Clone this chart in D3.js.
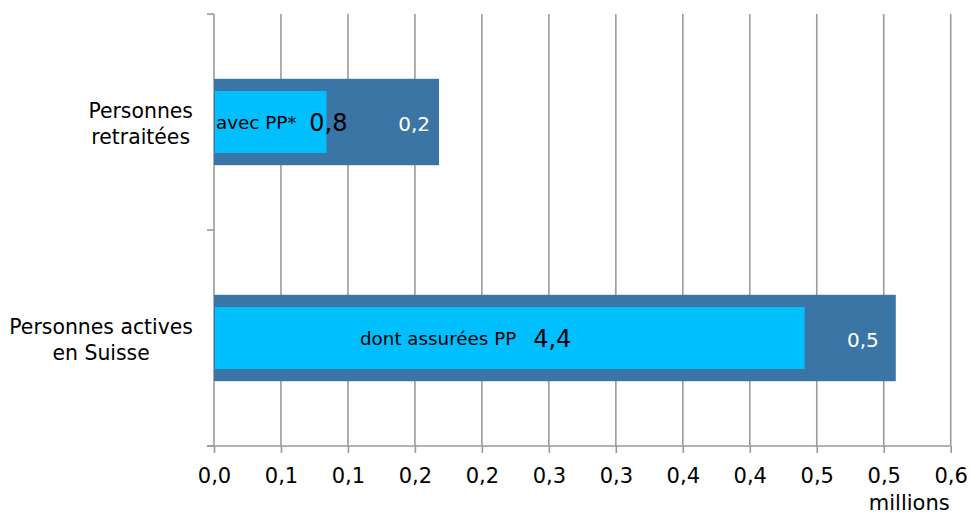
<!DOCTYPE html>
<html><head><meta charset="utf-8">
<script src="https://cdn.jsdelivr.net/npm/d3@7"></script>
<style>html,body{margin:0;padding:0;background:#fff;} svg{display:block;}</style>
</head><body>
<script>
// ---- data ----
const categories = ["Personnes retraitées", "Personnes actives en Suisse"];
const categoryLines = [["Personnes", "retraitées"], ["Personnes actives", "en Suisse"]];
const totals = [0.168, 0.509];          // dark bars (millions, axis units)
const subsets = [0.084, 0.441];         // light bars
const subsetNames = ["avec PP*", "dont assurées PP"];
const subsetValueLabels = ["0,8", "4,4"];
const remainderLabels = ["0,2", "0,5"];
const tickValues = [0, 0.05, 0.1, 0.15, 0.2, 0.25, 0.3, 0.35, 0.4, 0.45, 0.5, 0.55];
const tickLabels = ["0,0","0,1","0,1","0,2","0,2","0,3","0,3","0,4","0,4","0,5","0,5","0,6"];
const unitLabel = "millions";

// ---- layout ----
const W = 970, H = 514;
const mLeft = 214, mRight = 950.7, mTop = 14, mBottom = 446;
const FONT = "DejaVu Sans, sans-serif";
const GRID = "#9a9a9a";
const DARK = "#3A75A5", LIGHT = "#00BFFF";
const nameStart = [2, 146];     // px offset from bar start for subset name
const valueGap = [13, 17];      // px between subset name and its value
const remainderPad = [9, 17];   // px from end of dark bar

const svg = d3.select("body").append("svg").attr("width", W).attr("height", H);
const x = d3.scaleLinear().domain([0, 0.55]).range([mLeft, mRight]);
const y = d3.scaleBand().domain(categories).range([mTop, mBottom]);

// gridlines
svg.append("g").selectAll("line").data(tickValues.slice(1)).join("line")
  .attr("x1", d => x(d)).attr("x2", d => x(d))
  .attr("y1", mTop).attr("y2", mBottom)
  .attr("stroke", GRID).attr("stroke-width", 1.6);

// x axis
const xAxis = d3.axisBottom(x).tickValues(tickValues)
  .tickFormat((d, i) => tickLabels[i]).tickSize(7).tickSizeOuter(0).tickPadding(9);
const gx = svg.append("g").attr("transform", `translate(0,${mBottom})`).call(xAxis);
gx.select(".domain").remove();
gx.append("line").attr("x1", mLeft - 7).attr("x2", mRight).attr("y1", 0).attr("y2", 0)
  .attr("stroke", GRID).attr("stroke-width", 1.6);
gx.selectAll(".tick line").attr("stroke", GRID).attr("stroke-width", 1.6);
gx.selectAll(".tick text").attr("font-family", FONT).attr("font-size", 21).attr("fill", "#000")
  .attr("dy", null).attr("y", 37);

// y axis (no labels, ticks at band boundaries)
const bounds = [mTop, mTop + y.step(), mBottom];
svg.append("line").attr("x1", mLeft).attr("x2", mLeft).attr("y1", mTop).attr("y2", mBottom)
  .attr("stroke", GRID).attr("stroke-width", 1.6);
svg.append("g").selectAll("line").data(bounds).join("line")
  .attr("x1", mLeft - 7).attr("x2", mLeft).attr("y1", d => d).attr("y2", d => d)
  .attr("stroke", GRID).attr("stroke-width", 1.6);

// bars
const bw = y.bandwidth();
const darkH = bw * 0.4, lightH = bw * 0.287;
const rows = categories.map((c, i) => ({c, i, total: totals[i], sub: subsets[i]}));
svg.append("g").selectAll("rect").data(rows).join("rect")
  .attr("x", x(0)).attr("width", d => x(d.total) - x(0))
  .attr("y", d => y(d.c) + bw / 2 - darkH / 2).attr("height", darkH)
  .attr("fill", DARK);
svg.append("g").selectAll("rect").data(rows).join("rect")
  .attr("x", x(0) + 1).attr("width", d => x(d.sub) - x(0) - 1)
  .attr("y", d => y(d.c) + bw / 2 - lightH / 2).attr("height", lightH)
  .attr("fill", LIGHT);

// bar labels
rows.forEach(d => {
  const cy = y(d.c) + bw / 2;
  const t = svg.append("text").attr("x", x(0) + nameStart[d.i]).attr("y", cy + 7)
    .attr("font-family", FONT).attr("fill", "#000");
  t.append("tspan").attr("font-size", 18.3).text(subsetNames[d.i]);
  t.append("tspan").attr("font-size", 24).attr("dx", valueGap[d.i]).attr("dy", 1.5).text(subsetValueLabels[d.i]);
  svg.append("text").attr("x", x(d.total) - remainderPad[d.i]).attr("y", cy + 9)
    .attr("text-anchor", "end").attr("font-family", FONT).attr("font-size", 20)
    .attr("fill", "#fff").text(remainderLabels[d.i]);
});

// category labels (centered lines, right edge near axis)
rows.forEach(d => {
  const g = svg.append("g");
  const lines = categoryLines[d.i];
  const cy = y(d.c) + bw / 2;
  const texts = lines.map((l, k) => g.append("text")
    .attr("y", cy + 2 + (k - (lines.length - 1) / 2) * 26 + 7)
    .attr("text-anchor", "middle").attr("font-family", FONT).attr("font-size", 20.4)
    .attr("fill", "#000").text(l));
  const wmax = d3.max(texts, t => t.node().getComputedTextLength());
  texts.forEach(t => t.attr("x", mLeft - 21 - wmax / 2));
});

// unit label
svg.append("text").attr("x", mRight - 1).attr("y", 510).attr("text-anchor", "end")
  .attr("font-family", FONT).attr("font-size", 21).attr("fill", "#000").text(unitLabel);
</script>
</body></html>
